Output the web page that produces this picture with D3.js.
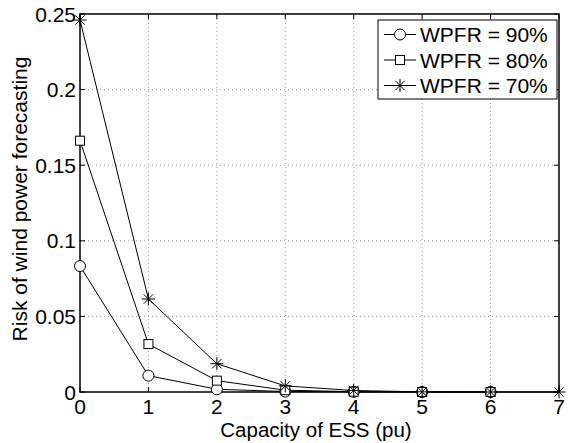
<!DOCTYPE html>
<html>
<head>
<meta charset="utf-8">
<script src="https://cdn.jsdelivr.net/npm/d3@7"></script>
<style>
  body { margin: 0; background: #fff; }
  svg { display: block; font-family: "Liberation Sans", Arial, sans-serif; }
</style>
</head>
<body>
<div id="chart"></div>
<script>
const xTicks = [0, 1, 2, 3, 4, 5, 6, 7]
const yTicks = [0, 0.05, 0.1, 0.15, 0.2, 0.25]
const yTickLabels = ['0', '0.05', '0.1', '0.15', '0.2', '0.25']

const seriesNames = ['WPFR = 90%', 'WPFR = 80%', 'WPFR = 70%']
const wpfr90 = [0.0833, 0.0108, 0.0018, 0.0003, 0.0001, 0, 0]
const wpfr80 = [0.1662, 0.0317, 0.0075, 0.0012, 0.0002, 0, 0]
const wpfr70 = [0.246, 0.0615, 0.0187, 0.004, 0.001, 0.0001, 0, 0]

const width = 569, height = 443
const margin = { top: 14, right: 10, bottom: 51, left: 80 }
const fontSize = 21

const svg = d3.select('#chart').append('svg')
  .attr('width', width)
  .attr('height', height)

const x = d3.scaleLinear().domain([0, 7]).range([margin.left, 559])
const y = d3.scaleLinear().domain([0, 0.25]).range([392, margin.top])

// grid
const grid = svg.append('g').attr('stroke', '#999').attr('stroke-dasharray', '1,3').attr('stroke-width', 1)
xTicks.slice(1, -1).forEach(t => {
  grid.append('line').attr('x1', x(t)).attr('x2', x(t)).attr('y1', y(0)).attr('y2', y(0.25))
})
yTicks.slice(1, -1).forEach(t => {
  grid.append('line').attr('x1', x(0)).attr('x2', x(7)).attr('y1', y(t)).attr('y2', y(t))
})

// box
svg.append('rect')
  .attr('x', x(0)).attr('y', y(0.25))
  .attr('width', x(7) - x(0)).attr('height', y(0) - y(0.25))
  .attr('fill', 'none').attr('stroke', '#000').attr('stroke-width', 1.5)

// inward ticks
const tickLen = 5
const ticks = svg.append('g').attr('stroke', '#000').attr('stroke-width', 1)
xTicks.forEach(t => {
  ticks.append('line').attr('x1', x(t)).attr('x2', x(t)).attr('y1', y(0)).attr('y2', y(0) - tickLen)
  ticks.append('line').attr('x1', x(t)).attr('x2', x(t)).attr('y1', y(0.25)).attr('y2', y(0.25) + tickLen)
})
yTicks.forEach(t => {
  ticks.append('line').attr('x1', x(0)).attr('x2', x(0) + tickLen).attr('y1', y(t)).attr('y2', y(t))
  ticks.append('line').attr('x1', x(7)).attr('x2', x(7) - tickLen).attr('y1', y(t)).attr('y2', y(t))
})

// tick labels
svg.append('g').selectAll('text').data(xTicks).join('text')
  .attr('x', d => x(d)).attr('y', 413.5)
  .attr('text-anchor', 'middle').attr('font-size', fontSize)
  .text(d => d)
svg.append('g').selectAll('text').data(yTicks).join('text')
  .attr('x', 76).attr('y', d => y(d) + 7.5)
  .attr('text-anchor', 'end').attr('font-size', fontSize)
  .text((d, i) => yTickLabels[i])

// axis labels
svg.append('text')
  .attr('x', 316).attr('y', 437)
  .attr('text-anchor', 'middle').attr('font-size', 20.5)
  .text('Capacity of ESS (pu)')
svg.append('text')
  .attr('transform', 'translate(27,199) rotate(-90)')
  .attr('text-anchor', 'middle').attr('font-size', fontSize)
  .text('Risk of wind power forecasting')

// markers
function drawMarker(g, kind, cx, cy) {
  if (kind === 'circle') {
    g.append('circle').attr('cx', cx).attr('cy', cy).attr('r', 5.5)
      .attr('fill', '#fff').attr('stroke', '#000').attr('stroke-width', 1)
  } else if (kind === 'square') {
    g.append('rect').attr('x', cx - 4.5).attr('y', cy - 4.5).attr('width', 9).attr('height', 9)
      .attr('fill', '#fff').attr('stroke', '#000').attr('stroke-width', 1)
  } else {
    const r = 6.5, d = r * 0.72
    const p = `M${cx - r},${cy}L${cx + r},${cy}M${cx},${cy - r}L${cx},${cy + r}` +
      `M${cx - d},${cy - d}L${cx + d},${cy + d}M${cx - d},${cy + d}L${cx + d},${cy - d}`
    g.append('path').attr('d', p).attr('stroke', '#000').attr('stroke-width', 1).attr('fill', 'none')
  }
}

const series = [
  { name: seriesNames[0], values: wpfr90, marker: 'circle' },
  { name: seriesNames[1], values: wpfr80, marker: 'square' },
  { name: seriesNames[2], values: wpfr70, marker: 'star' }
]

const line = d3.line().x((d, i) => x(i)).y(d => y(d))

const plot = svg.append('g')
series.forEach(s => {
  plot.append('path').attr('d', line(s.values))
    .attr('fill', 'none').attr('stroke', '#000').attr('stroke-width', 1)
})
series.forEach(s => {
  s.values.forEach((v, i) => drawMarker(plot, s.marker, x(i), y(v)))
})

// legend
const legend = svg.append('g')
legend.append('rect')
  .attr('x', 378).attr('y', 20).attr('width', 179).attr('height', 79)
  .attr('fill', '#fff').attr('stroke', '#000').attr('stroke-width', 1)
series.forEach((s, i) => {
  const ly = 34.5 + i * 25.5
  legend.append('line').attr('x1', 384).attr('x2', 416).attr('y1', ly).attr('y2', ly)
    .attr('stroke', '#000').attr('stroke-width', 1)
  drawMarker(legend, s.marker, 400, ly)
  legend.append('text').attr('x', 420).attr('y', ly + 7.5)
    .attr('font-size', fontSize).text(s.name)
})
</script>
</body>
</html>
